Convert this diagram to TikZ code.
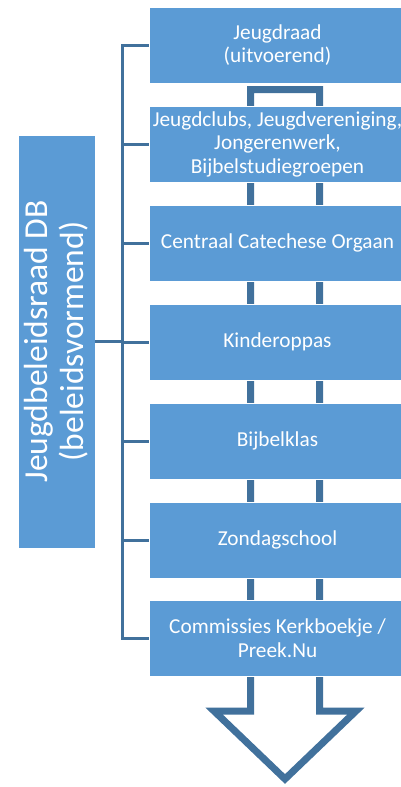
\documentclass[tikz,border=0pt]{standalone}
\usepackage{fontspec}
\setmainfont{Carlito}
\usepackage{tikz}
\definecolor{boxblue}{HTML}{5B9BD5}
\definecolor{lineblue}{HTML}{41719C}
\begin{document}
\begin{tikzpicture}[x=1pt,y=-1pt,
		unitbox/.style={fill=boxblue, draw=white, line width=0.6pt, text=white, align=center, minimum width=257pt, minimum height=76pt, inner sep=0pt, font=\fontsize{21.3}{23.5}\selectfont},
		boardbox/.style={fill=boxblue, draw=white, line width=0.6pt, text=white, align=center, rotate=90, minimum width=413pt, minimum height=77pt, inner sep=0pt, font=\fontsize{33.5}{36}\selectfont},
		link/.style={draw=lineblue, line width=3pt}
	]
	\useasboundingbox (0,0) rectangle (401,787);
	\fill[white] (0,0) rectangle (401,787);

	\draw[draw=lineblue, fill=white, line width=7pt, miter limit=10]
		(250.5,89.5) -- (319.5,89.5) -- (319.5,711) -- (356,711) -- (285,779)
		-- (214,711) -- (250.5,711) -- cycle;

	\node[unitbox] (raad) at (277.5,45) {Jeugdraad\\(uitvoerend)};
	\node[unitbox] (clubs) at (277.5,144) {Jeugdclubs, Jeugdvereniging,\\Jongerenwerk,\\Bijbelstudiegroepen};
	\node[unitbox] (cco) at (277.5,243) {Centraal Catechese Orgaan};
	\node[unitbox] (kinder) at (277.5,342) {Kinderoppas};
	\node[unitbox] (klas) at (277.5,441) {Bijbelklas};
	\node[unitbox] (zondag) at (277.5,540) {Zondagschool};
	\node[unitbox] (comm) at (277.5,638) {Commissies Kerkboekje /\\Preek.Nu};

	\node[boardbox] (board) at (56.5,341.5) {Jeugdbeleidsraad DB\\(beleidsvormend)};

	\coordinate (spine) at (122,341.5);
	\draw[link] (board.south) -- (spine);
	\draw[link] (raad.west) -- (raad.west -| spine) -- (comm.west -| spine) -- (comm.west);
	\foreach \b in {clubs,cco,kinder,klas,zondag}
		\draw[link] (\b.west -| spine) -- (\b.west);
\end{tikzpicture}
\end{document}
